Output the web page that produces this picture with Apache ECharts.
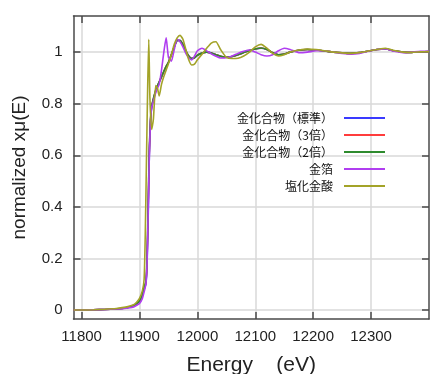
<!DOCTYPE html>
<html>
<head>
<meta charset="utf-8">
<script src="https://cdn.jsdelivr.net/npm/echarts@6/dist/echarts.min.js"></script>
<style>
html,body{margin:0;padding:0;background:#fff;}
#chart{width:430px;height:374px;}
</style>
</head>
<body>
<div id="chart"></div>
<script>
//データ
var xTicks=[11800,11900,12000,12100,12200,12300];
var yTicks=[0,0.2,0.4,0.6,0.8,1];
var names=['金化合物（標準）','金化合物（3倍）','金化合物（2倍）','金箔','塩化金酸'];
//金化合物 共通エネルギー
var eCompound=[11786,11800,11820,11840,11860,11870,11880,11890,11895,11900,
	11905,11908,11911,11913,11915,11917,11919,11921,11924,11927,
	11930,11934,11938,11942,11946,11950,11955,11960,11965,11970,
	11975,11980,11985,11990,11995,12000,12008,12016,12024,12032,
	12040,12050,12060,12070,12080,12090,12100,12110,12120,12130,
	12140,12150,12160,12175,12190,12205,12220,12235,12250,12265,
	12280,12295,12310,12325,12340,12355,12370,12385,12400];
var vStd=[0,0,0.001,0.002,0.004,0.006,0.01,0.017,0.024,0.033,
	0.055,0.08,0.1,0.17,0.36,0.6,0.73,0.785,0.815,0.84,
	0.862,0.883,0.903,0.924,0.944,0.96,0.99,1.02,1.044,1.046,
	1.03,1.006,0.985,0.976,0.978,0.988,0.996,1.0,0.997,0.99,
	0.984,0.98,0.983,0.99,0.998,1.006,1.012,1.015,1.01,0.998,
	0.99,0.993,1.0,1.007,1.01,1.008,1.004,1.0,0.997,0.995,
	0.998,1.004,1.01,1.012,1.005,1.0,0.999,1.001,1.002];
var v3x=[0,0,0.001,0.002,0.004,0.006,0.01,0.018,0.025,0.034,
	0.058,0.085,0.105,0.19,0.4,0.62,0.735,0.79,0.818,0.843,
	0.864,0.884,0.904,0.925,0.945,0.96,0.99,1.02,1.045,1.045,
	1.03,1.005,0.985,0.975,0.978,0.988,0.996,1.0,0.996,0.99,
	0.984,0.98,0.983,0.99,0.998,1.006,1.012,1.016,1.01,0.998,
	0.99,0.993,1.0,1.007,1.01,1.008,1.004,1.0,0.997,0.995,
	0.998,1.004,1.01,1.012,1.005,1.0,0.999,1.001,1.002];
var v2x=[0,0,0.001,0.002,0.004,0.006,0.01,0.018,0.025,0.035,
	0.06,0.09,0.11,0.2,0.42,0.63,0.74,0.79,0.82,0.845,
	0.865,0.885,0.905,0.925,0.945,0.96,0.99,1.02,1.045,1.045,
	1.03,1.005,0.985,0.975,0.978,0.988,0.996,1.0,0.996,0.99,
	0.984,0.98,0.983,0.99,0.998,1.006,1.012,1.016,1.01,0.998,
	0.99,0.993,1.0,1.007,1.01,1.008,1.004,1.0,0.997,0.995,
	0.998,1.004,1.01,1.012,1.005,1.0,0.999,1.001,1.002];
//金箔
var ePurple=eCompound;
var vFoil=[0,0,0.001,0.002,0.004,0.005,0.008,0.012,0.018,0.025,
	0.045,0.07,0.1,0.18,0.38,0.6,0.73,0.785,0.81,0.835,
	0.855,0.875,0.93,1.0,1.055,0.98,0.965,1.01,1.05,1.04,
	1.02,0.995,0.978,0.97,0.985,1.005,1.015,1.005,0.993,0.984,
	0.977,0.978,0.985,0.995,1.003,1.008,1.0,0.99,0.985,0.99,
	1.005,1.015,1.01,0.998,1.0,1.005,1.005,1.0,0.995,0.992,
	0.995,1.003,1.01,1.012,1.003,0.998,1.0,1.003,1.003];
//塩化金酸
var eOlive=[11786,11800,11820,11840,11860,11870,11880,11890,11895,11900,
	11905,11908,11910,11912,11914,11916,11918,11921,11924,11928,
	11931,11934,11938,11942,11946,11950,11955,11960,11965,11970,
	11975,11980,11985,11990,11995,12000,12008,12016,12024,12032,
	12040,12050,12060,12070,12080,12090,12100,12110,12120,12130,
	12140,12150,12160,12175,12190,12205,12220,12235,12250,12265,
	12280,12295,12310,12325,12340,12355,12370,12385,12400];
var vAcid=[0,0,0.001,0.003,0.006,0.009,0.013,0.02,0.03,0.045,
	0.075,0.12,0.3,0.58,0.85,1.05,0.82,0.7,0.74,0.87,
	0.86,0.83,0.875,0.905,0.93,0.955,0.99,1.03,1.055,1.065,
	1.05,1.01,0.97,0.95,0.953,0.97,0.992,1.015,1.035,1.04,
	1.01,0.98,0.975,0.976,0.985,1.0,1.02,1.03,1.015,0.995,
	0.985,0.99,1.0,1.008,1.012,1.01,1.005,1.0,0.997,0.995,
	0.998,1.004,1.01,1.015,1.006,1.0,0.999,1.001,1.002];
var colors=['#3a3aff','#ff3c3c','#2e8b2e','#b03ef0','#a3a328'];

function pairs(e,v){
	return e.map(function(x,i){return [x,v[i]];});
}
var lines=[[eCompound,vStd],[eCompound,v3x],[eCompound,v2x],[ePurple,vFoil],[eOlive,vAcid]];

var axisLineStyle={color:'#4a4a4a',width:1.5};
function $tick(vals){
	return {show:true,inside:true,length:7,customValues:vals,lineStyle:{color:'#4a4a4a',width:1.5}};
}
function xAxisOf(pos,showLabel){
	return {
		type:'value',position:pos,min:11786,max:12400,
		axisLine:{show:true,onZero:false,lineStyle:axisLineStyle},
		axisTick:$tick(xTicks),
		axisLabel:{show:showLabel,customValues:xTicks,fontSize:15,color:'#222',margin:10,fontFamily:'Liberation Sans',
			formatter:function(v){return String(v);}},
		splitLine:{show:showLabel,lineStyle:{color:'#d8d8d8',width:1.5}},
		name:showLabel?'Energy    (eV)':'',nameLocation:'middle',nameGap:36,
		nameTextStyle:{fontSize:21,color:'#222',fontFamily:'Liberation Sans'}
	};
}
function yAxisOf(pos,showLabel){
	return {
		type:'value',position:pos,min:-0.035,max:1.14,
		axisLine:{show:true,onZero:false,lineStyle:axisLineStyle},
		axisTick:$tick(yTicks),
		axisLabel:{show:showLabel,customValues:yTicks,fontSize:15,color:'#222',margin:11,fontFamily:'Liberation Sans'},
		splitLine:{show:showLabel,lineStyle:{color:'#d8d8d8',width:1.5}},
		name:showLabel?'normalized xμ(E)':'',nameLocation:'middle',nameGap:44,
		nameTextStyle:{fontSize:19,color:'#222',fontFamily:'Liberation Sans'}
	};
}

var myChart=echarts.init(document.getElementById('chart'));
myChart.setOption({
	animation:false,
	color:colors,
	grid:{left:73.5,right:1,top:16,bottom:55,containLabel:false,outerBoundsMode:'none'},
	legend:{
		orient:'vertical',align:'right',right:40,top:107,
		icon:'rect',itemWidth:41,itemHeight:2,itemGap:5,
		textStyle:{fontSize:12,color:'#111',fontFamily:'Noto Sans CJK JP',padding:[0,6,0,0]},
		data:names
	},
	xAxis:[xAxisOf('bottom',true),xAxisOf('top',false)],
	yAxis:[yAxisOf('left',true),yAxisOf('right',false)],
	series:lines.map(function(l,i){
		return {
			name:names[i],type:'line',xAxisIndex:0,yAxisIndex:0,
			data:pairs(l[0],l[1]),
			symbol:'none',smooth:0.2,
			lineStyle:{width:1.6,color:colors[i]}
		};
	})
});
</script>
</body>
</html>
